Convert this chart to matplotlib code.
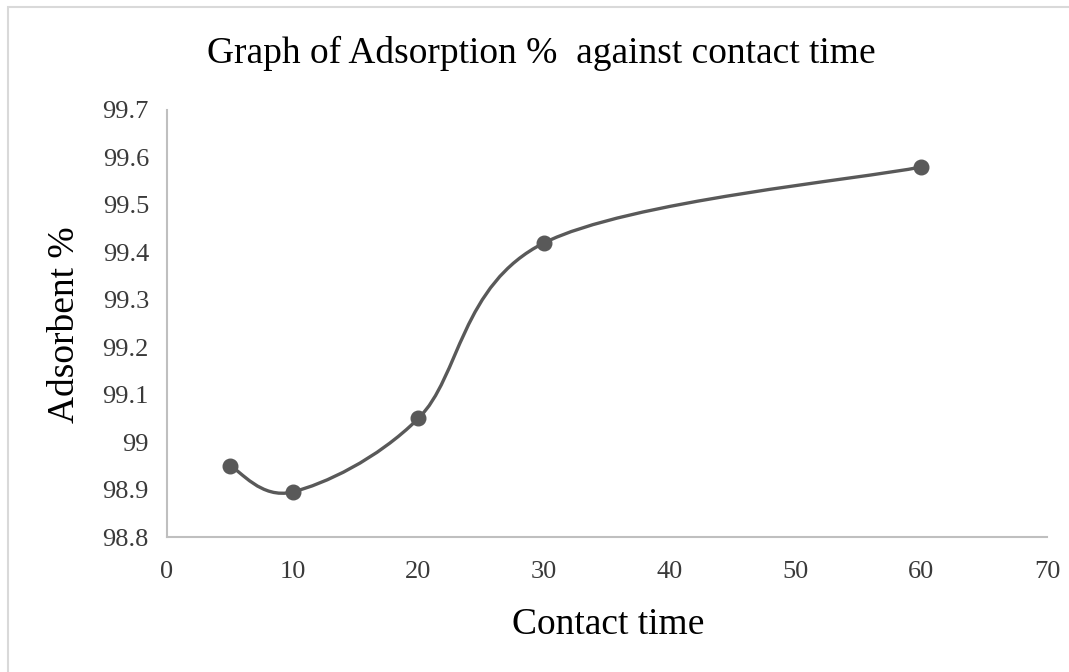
import matplotlib
matplotlib.use("Agg")
import matplotlib.pyplot as plt
from matplotlib.path import Path
from matplotlib.patches import PathPatch, Rectangle
import numpy as np

# Graph of Adsorption % against contact time
contact_time = [5, 10, 20, 30, 60]
adsorption = [98.95, 98.895, 99.05, 99.42, 99.58]
x_ticks = [0, 10, 20, 30, 40, 50, 60, 70]
y_ticks = [98.8, 98.9, 99.0, 99.1, 99.2, 99.3, 99.4, 99.5, 99.6, 99.7]
y_labels = ['98.8', '98.9', '99', '99.1', '99.2', '99.3', '99.4', '99.5', '99.6', '99.7']

plt.rcParams['font.family'] = ['Liberation Serif', 'DejaVu Serif']

W, H = 1069, 672
fig = plt.figure(figsize=(W / 100, H / 100), dpi=100)
ax = fig.add_axes([167 / W, 1 - 537 / H, 880 / W, 427 / H])

# smooth line like excel (catmull-rom bezier through the points)
pts = np.column_stack([contact_time, adsorption])
n = len(pts)
verts = [pts[0]]
codes = [Path.MOVETO]
for i in range(n - 1):
    p0 = pts[max(i - 1, 0)]
    p1 = pts[i]
    p2 = pts[i + 1]
    p3 = pts[min(i + 2, n - 1)]
    c1 = p1 + (p2 - p0) / 6.0
    c2 = p2 - (p3 - p1) / 6.0
    verts += [c1, c2, p2]
    codes += [Path.CURVE4] * 3
ax.add_patch(PathPatch(Path(verts, codes), facecolor='none', edgecolor='#595959',
                       lw=2.4, capstyle='round', joinstyle='round'))
ax.plot(contact_time, adsorption, 'o', color='#595959', ms=10.5, zorder=3)

ax.set_xlim(0, 70)
ax.set_ylim(98.8, 99.7)
ax.set_xticks(x_ticks)
ax.set_yticks(y_ticks)
ax.set_yticklabels(y_labels)
ax.tick_params(length=0, labelsize=19, colors='#404040', labelcolor='#3a3a3a')
ax.tick_params(axis='x', pad=17)
ax.tick_params(axis='y', pad=13)

for side in ['top', 'right']:
    ax.spines[side].set_visible(False)
for side in ['left', 'bottom']:
    ax.spines[side].set_color('#bfbfbf')
    ax.spines[side].set_linewidth(1.5)

fig.text(541 / W, 1 - 63 / H, "Graph of Adsorption %  against contact time",
         fontsize=27, ha='center', va='baseline')
fig.text(608 / W, 1 - 634 / H, "Contact time", fontsize=27, ha='center', va='baseline')
fig.text(65 / W, 1 - 325 / H, "Adsorbent %", fontsize=27, rotation=90,
         ha='center', va='center')

fig.patches.append(Rectangle((8 / W, -0.1), 1.2, 1 - 7 / H + 0.1,
                             transform=fig.transFigure, fill=False,
                             edgecolor='#d9d9d9', lw=1.5))

fig.savefig("out.png", dpi=100)
